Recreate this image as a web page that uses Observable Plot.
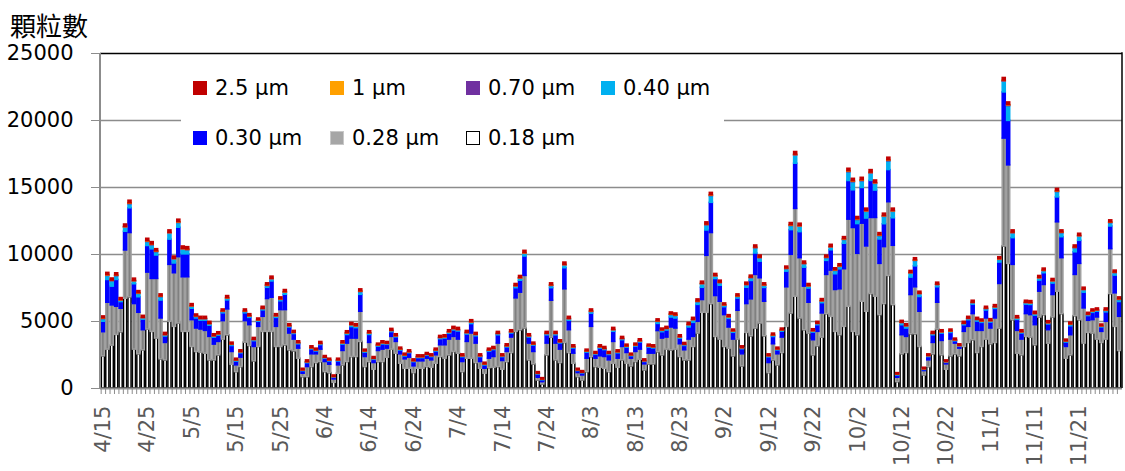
<!DOCTYPE html>
<html><head><meta charset="utf-8">
<script src="https://cdn.jsdelivr.net/npm/d3@7"></script>
<script src="https://cdn.jsdelivr.net/npm/@observablehq/plot@0.6"></script>
<style>
body{margin:0;background:#fff;}
#wrap{position:relative;width:1125px;height:471px;font-family:"DejaVu Sans",sans-serif;}
#title{position:absolute;left:10px;top:6px;font-size:26px;font-family:"Noto Sans CJK TC",sans-serif;color:#000;}
#legend{position:absolute;left:181px;top:64px;width:543px;height:96px;background:#fff;}
.item{position:absolute;display:flex;align-items:center;font-size:21px;color:#000;height:24px;line-height:24px;}
.sw{width:14px;height:14px;margin-right:8px;box-sizing:border-box;}
</style></head>
<body><div id="wrap"><div id="chart"></div><div id="title">顆粒數</div><div id="legend"></div></div>
<script>
// categories: daily dates 4/15 .. 11/30
const dates = d3.utcDay.range(new Date(Date.UTC(2023,3,15)), new Date(Date.UTC(2023,11,1))).map(d3.utcFormat("%-m/%-d"));
const tickLabels = ["4/15","4/25","5/5","5/15","5/25","6/4","6/14","6/24","7/4","7/14","7/24","8/3","8/13","8/23","9/2","9/12","9/22","10/2","10/12","10/22","11/1","11/11","11/21"];
const yTicks = [0,5000,10000,15000,20000,25000];

const s018 = [2400,2900,3200,4000,4200,6700,6800,2900,2550,2850, 4400,4225,3725,2175,2100,4975,4600,4850,4225,4225, 3100,2725,2675,2600,2100,2100,2475,3650,3975,1775, 1225,1600,3425,3175,2025,3100,4225,4225,4225,3100, 3100,3225,2850,2775,2225,850,850,1600,1900,1975, 1225,1150,425,1100,1725,1975,2350,2350,3475,1600, 1975,1400,1975,1975,2300,2900,2600,1850,1475,1475, 1150,1475,1475,1600,1550,1850,2350,2225,2475,2725, 2600,1225,2225,2225,1900,1475,1100,1525,1550,1600, 1400,1975,2650,4225,4350,4475,2100,1800,600,300, 2475,3800,2100,1900,3400,2650,1850,850,600,1225, 2350,1600,1550,1475,1225,1850,1550,2100,1850,1650, 1975,2150,1350,1800,1800,2710,2475,2900,2850,2900, 2350,2100,2100,3100,4100,5650,5650,6300,3850,3650, 3100,2975,2400,3650,1650,4150,3900,4475,4850,3900, 1150,2100,1725,2650,4600,5600,6850,5225,4350,4100, 2475,3150,3800,5550,5350,4225,3975,4600,6100,4225, 3975,6475,5725,7050,6850,5475,6300,8400,6225,475, 2550,2650,4050,4050,3100,975,1600,2550,4400,2475, 1400,2400,2550,2400,3100,3400,3600,2650,3100,3650, 3300,3400,4475,10600,9300,5100,2600,2475,3850,3800, 3225,5300,5475,3350,5300,7225,5550,2225,2475,5400, 5100,3350,4150,4100,3650,3400,3650,7050,4600,2800];
const s028 = [1800,3500,3000,2100,1750,3600,4800,3400,3100,1500, 4250,3950,4450,3050,1300,4250,4000,4950,4075,4075, 2000,1750,1725,1700,1750,1175,1000,1375,1925,950, 500,700,1600,1550,1075,1500,1125,2450,2550,1500, 2750,2625,1250,875,750,250,750,950,650,925, 750,625,250,625,1075,1375,1375,1375,2250,750, 1425,500,825,925,675,950,875,700,700,825, 500,550,550,625,550,625,875,1000,1175,1125, 1050,750,1250,1875,1450,500,375,700,800,1750, 650,750,1150,2500,2800,3925,1250,925,200,175, 875,2750,1250,1000,4000,1700,750,300,375,1000, 2250,625,850,875,875,1625,675,1000,800,575, 750,750,450,800,800,1575,1250,900,1700,1575, 950,750,1550,750,875,950,4250,5300,3050,2825, 2375,1575,1250,2150,900,2150,2750,4000,3375,2575, 750,1200,825,1150,2950,4375,6550,4500,3250,2300, 1125,1075,1800,2925,3450,3125,3425,4300,6500,7750, 6075,5825,4875,5675,5875,3825,4250,5500,4425,325, 1425,1200,2925,3500,2625,325,500,850,2000,1075, 400,1250,800,575,1125,1200,1950,1650,1200,1575, 1175,1825,3325,8050,7350,4125,1700,1175,1700,1675, 1500,1925,2250,1000,1675,5175,4175,875,1500,3075, 4200,2625,900,1000,1650,825,1325,3350,2500,2550];
const s030 = [780,1700,1400,2000,500,1400,1850,1480,1160,785, 1985,2210,1750,1340,480,1885,730,2200,1710,1710, 850,755,660,760,835,520,470,585,675,445, 280,330,585,545,430,380,480,840,1215,670, 660,1145,455,415,325,190,290,365,215,340, 240,240,135,290,480,645,860,780,1265,325, 595,240,325,390,285,355,340,285,215,335, 315,240,240,215,240,285,455,505,445,480, 605,360,555,705,545,360,240,515,515,620, 290,340,305,760,890,1450,455,465,240,135, 620,940,620,465,1575,705,390,150,150,450, 985,290,580,515,400,755,400,505,390,180, 390,530,180,440,390,535,475,525,750,750, 420,325,905,1050,1265,915,1890,2255,1270,1195, 595,645,505,910,380,1220,1375,1600,1240,1030, 430,545,290,440,1170,1845,3375,1945,1415,1055, 570,495,765,1050,1515,1175,1495,1900,2885,2815, 2220,2665,2085,2765,2045,1820,1710,2400,2055,165, 750,625,1300,1565,1105,85,245,570,1155,545, 115,495,170,140,495,495,710,695,595,595, 445,710,1600,3445,3320,1995,820,455,710,760, 710,830,880,430,855,1860,1565,330,670,1690, 1720,1175,355,545,430,330,710,1690,1325,1105];
const s040 = [200,300,400,280,100,300,300,200,250,100, 300,300,250,250,80,450,300,350,350,300, 150,100,100,100,100,80,80,100,120,80, 60,60,100,90,70,70,80,130,150,90, 100,150,70,60,60,40,50,60,50,60, 50,50,30,50,70,90,120,100,200,60, 90,50,60,60,50,70,60,50,50,50, 50,50,50,50,50,50,70,70,80,80, 80,50,80,100,80,50,50,60,60,80, 50,60,70,120,150,200,70,60,40,30, 80,150,80,60,200,100,60,30,30,60, 120,50,70,60,60,100,60,70,60,40, 60,70,40,60,60,150,100,100,180,180, 80,60,150,180,200,250,380,500,180,180, 100,100,80,120,60,180,200,380,250,150, 60,80,50,70,180,300,600,400,250,150, 80,80,120,200,200,250,180,280,650,600, 300,500,500,550,500,250,550,650,480,50, 150,150,300,400,200,30,60,80,150,80, 40,80,50,40,80,80,100,100,80,100, 80,100,200,800,1100,350,100,70,100,100, 100,150,150,70,150,400,300,60,100,300, 320,180,70,80,70,60,100,250,180,150];
const s070 = [30,35,30,30,30,35,40,30,30,25, 35,35,30,30,25,35,30,35,35,35, 30,25,25,25,25,20,20,25,25,20, 20,20,25,25,20,20,25,25,30,25, 25,25,20,20,20,15,20,20,20,20, 20,20,15,20,20,25,25,25,30,20, 25,20,20,20,20,20,20,20,20,20, 20,20,20,20,20,20,20,20,20,25, 25,20,25,25,20,20,20,20,20,20, 20,20,20,25,30,30,20,20,15,15, 20,30,20,20,30,25,20,15,15,20, 25,20,20,20,20,25,20,20,20,15, 20,20,15,20,20,25,20,20,25,25, 20,20,25,25,30,30,35,40,30,30, 25,25,20,25,20,30,30,35,30,25, 20,20,20,20,30,35,45,35,30,25, 20,20,25,30,30,30,30,35,45,40, 35,40,35,40,40,35,35,45,35,15, 20,20,30,30,25,15,15,20,25,20, 15,20,15,15,20,20,25,25,20,25, 20,25,30,50,50,35,25,20,25,25, 25,25,25,20,25,35,30,20,25,30, 30,25,20,20,20,20,25,30,25,25];
const s1 = [20,25,20,20,20,25,25,20,20,15, 25,25,25,20,15,25,20,25,25,25, 20,20,15,15,15,15,15,15,20,15, 10,10,15,15,15,15,15,20,20,15, 15,20,15,15,15,10,10,15,10,15, 10,10,10,10,15,15,20,20,20,15, 15,10,15,15,15,15,15,15,10,15, 10,10,10,10,10,15,15,15,15,15, 15,15,15,20,15,15,10,15,15,15, 10,15,15,20,20,25,15,15,10,10, 15,20,15,15,25,20,15,10,10,15, 20,10,15,15,15,20,15,15,15,10, 15,15,10,15,15,15,15,15,20,20, 15,15,20,20,20,20,25,25,20,20, 15,15,15,20,10,20,20,25,20,20, 10,15,10,15,20,25,30,25,20,20, 15,15,15,20,20,20,20,25,30,30, 25,30,25,30,25,25,25,30,25,10, 15,15,20,20,20,10,10,15,20,15, 10,15,10,10,15,15,15,15,15,15, 15,15,20,30,30,25,15,15,15,15, 15,20,20,15,20,25,20,10,15,20, 20,20,15,15,15,10,15,20,20,20];
const s25 = [150,170,160,170,150,180,200,170,160,150, 180,180,170,160,150,180,170,190,180,180, 150,150,150,150,150,140,140,150,160,140, 130,130,150,150,140,140,150,160,160,150, 150,160,140,140,130,120,130,140,130,140, 130,130,110,130,140,150,150,150,160,130, 150,130,130,140,130,140,140,130,130,130, 130,130,130,130,130,130,140,140,140,150, 150,130,150,150,140,130,130,140,140,140, 130,140,140,150,160,170,140,140,120,110, 140,160,140,140,170,150,140,120,120,130, 150,130,140,140,130,150,130,140,140,130, 140,140,130,140,140,150,140,140,150,150, 140,130,150,150,160,160,170,180,150,150, 140,140,130,150,130,150,150,160,160,150, 130,140,130,130,150,170,200,170,160,150, 140,140,150,150,160,150,150,160,190,190, 170,190,180,190,190,170,180,200,180,110, 140,140,150,160,150,110,120,140,150,140, 120,140,130,120,140,140,150,140,140,140, 140,150,150,200,200,170,140,140,150,150, 150,150,150,140,150,180,160,130,140,160, 160,150,140,140,140,130,150,160,150,150];

// bottom-to-top stacking order
const series = [
  {key:"0.18 µm", values:s018, fill:"#ffffff", stroke:"#000000"},
  {key:"0.28 µm", values:s028, fill:"#808080", stroke:"#a0a0a0"},
  {key:"0.30 µm", values:s030, fill:"#0000ff", stroke:"#0000ff"},
  {key:"0.40 µm", values:s040, fill:"#00b0f0", stroke:"#00b0f0"},
  {key:"0.70 µm", values:s070, fill:"#7030a0", stroke:"#7030a0"},
  {key:"1 µm",    values:s1,   fill:"#ffa000", stroke:"#ffa000"},
  {key:"2.5 µm",  values:s25,  fill:"#c00000", stroke:"#c00000"}
];
const legendRows = [["2.5 µm","1 µm","0.70 µm","0.40 µm"],["0.30 µm","0.28 µm","0.18 µm"]];

const data = series.flatMap(s => dates.map((d, i) => ({date: d, size: s.key, value: s.values[i], fill: s.fill, stroke: s.stroke})));

const W = 1125, H = 471, mL = 100, mR = 3, mT = 53, mB = 83;
const bw = (W - mL - mR) / dates.length;

const chart = Plot.plot({
  width: W, height: H,
  marginLeft: mL, marginRight: mR, marginTop: mT, marginBottom: mB,
  style: {fontFamily: "DejaVu Sans, sans-serif", fontSize: "21px", background: "#fff", color: "#000"},
  x: {type: "band", domain: dates, padding: 0.3, axis: null},
  y: {domain: [0, 25000], axis: null},
  color: {type: "identity"},
  marks: [
    Plot.gridY(yTicks.slice(1, -1), {stroke: "#8c8c8c", strokeOpacity: 1, strokeWidth: 1.5}),
    Plot.barY(data, {x: "date", y: "value", z: "size", fill: "fill", stroke: "stroke", strokeWidth: 1.5}),
    Plot.ruleY([25000], {stroke: "#000", strokeWidth: 1.5}),
    Plot.ruleY([0], {stroke: "#8c8c8c", strokeWidth: 2}),
    Plot.axisY(yTicks, {label: null, tickSize: 9, tickPadding: 18, stroke: "#8c8c8c", fill: "#000", fontSize: 21, tickFormat: d3.format("d")}),
    Plot.axisX(dates, {label: null, tickSize: 6, tickPadding: 0, dx: -bw / 2, stroke: "#8c8c8c", tickFormat: () => ""}),
    Plot.axisX(tickLabels, {label: null, tickSize: 0, tickPadding: 17, tickRotate: -90, fill: "#595959", fontSize: 21})
  ]
});
document.getElementById("chart").appendChild(chart);

// frame edges: left axis line (gray) and right border (black)
const xr = chart.scale("x").range, yr = chart.scale("y").range;
const svg = d3.select(chart);
svg.append("line").attr("x1", xr[0]).attr("x2", xr[0]).attr("y1", yr[0]).attr("y2", yr[1]).attr("stroke", "#8c8c8c").attr("stroke-width", 2);
svg.append("line").attr("x1", xr[1]).attr("x2", xr[1]).attr("y1", yr[0]).attr("y2", yr[1] - 0.75).attr("stroke", "#000").attr("stroke-width", 1.5);

// legend
const legend = document.getElementById("legend");
const colX = [12, 149, 285, 420], rowY = [12, 62];
legendRows.forEach((row, r) => row.forEach((k, c) => {
  const s = series.find(t => t.key === k);
  const it = document.createElement("div");
  it.className = "item";
  it.style.left = colX[c] + "px"; it.style.top = rowY[r] + "px";
  const sw = document.createElement("div");
  sw.className = "sw";
  sw.style.background = k === "0.28 µm" ? "#a6a6a6" : s.fill;
  sw.style.border = k === "0.18 µm" ? "1.5px solid #000" : (k === "0.28 µm" ? "1px solid #c8c8c8" : "none");
  it.appendChild(sw);
  it.appendChild(document.createTextNode(k));
  legend.appendChild(it);
}));
</script>
</body></html>
